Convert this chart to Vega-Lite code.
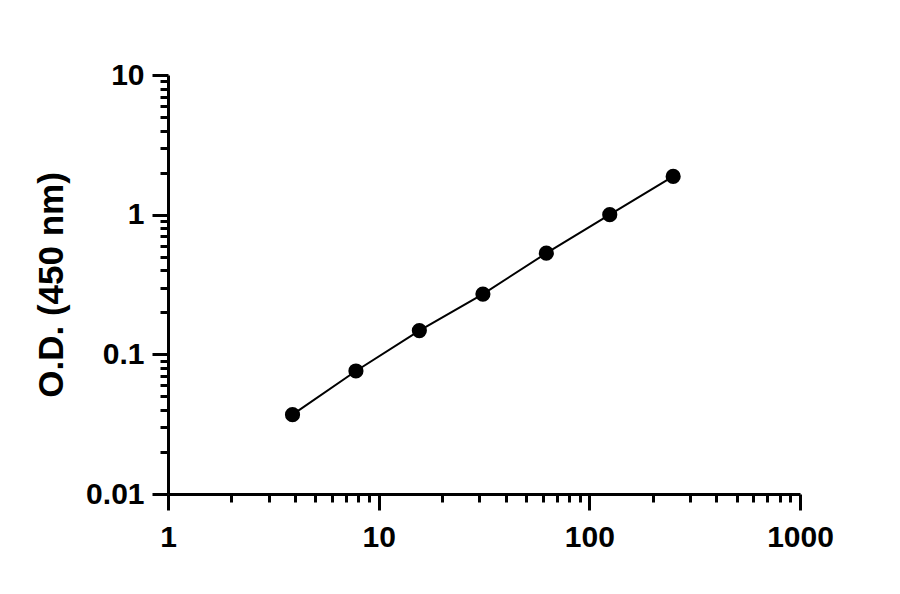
{
  "$schema": "https://vega.github.io/schema/vega-lite/v6.json",
  "description": "Standard curve, log-log: O.D. at 450 nm against concentration",
  "autosize": {"type": "none"},
  "padding": {"left": 168, "top": 75, "right": 100, "bottom": 100},
  "width": 632,
  "height": 419,
  "background": "white",
  "config": {
    "view": {"stroke": null},
    "font": "Arial",
    "axis": {
      "domainColor": "black",
      "domainWidth": 3,
      "tickColor": "black",
      "tickWidth": 3,
      "grid": false,
      "labelFont": "Arial",
      "labelFontWeight": "bold",
      "labelFontSize": 30,
      "labelColor": "black",
      "titleFont": "Arial",
      "titleFontWeight": "bold",
      "titleFontSize": 35,
      "titleColor": "black"
    }
  },
  "data": {
    "values": [
      {"conc": 3.9, "od": 0.037},
      {"conc": 7.8, "od": 0.076},
      {"conc": 15.6, "od": 0.148},
      {"conc": 31.25, "od": 0.27},
      {"conc": 62.5, "od": 0.53},
      {"conc": 125, "od": 1.0},
      {"conc": 250, "od": 1.88}
    ]
  },
  "encoding": {
    "x": {
      "field": "conc",
      "type": "quantitative",
      "scale": {"type": "log", "domain": [1, 1000], "nice": false},
      "axis": {
        "title": null,
        "values": [1, 2, 3, 4, 5, 6, 7, 8, 9, 10, 20, 30, 40, 50, 60, 70, 80, 90, 100, 200, 300, 400, 500, 600, 700, 800, 900, 1000],
        "format": "~g",
        "labelExpr": "indexof(['1', '10', '100', '1000'], datum.label) >= 0 ? datum.label : ''",
        "tickSize": {"condition": {"test": "datum.value == 1 || datum.value == 10 || datum.value == 100 || datum.value == 1000", "value": 16}, "value": 8},
        "labelPadding": 12,
        "labelFlush": false,
        "labelOverlap": false
      }
    },
    "y": {
      "field": "od",
      "type": "quantitative",
      "scale": {"type": "log", "domain": [0.01, 10], "nice": false},
      "axis": {
        "title": "O.D. (450 nm)",
        "values": [0.01, 0.02, 0.03, 0.04, 0.05, 0.06, 0.07, 0.08, 0.09, 0.1, 0.2, 0.3, 0.4, 0.5, 0.6, 0.7, 0.8, 0.9, 1, 2, 3, 4, 5, 6, 7, 8, 9, 10],
        "format": "~g",
        "labelExpr": "indexof(['0.01', '0.1', '1', '10'], datum.label) >= 0 ? datum.label : ''",
        "tickSize": {"condition": {"test": "datum.value == 0.01 || datum.value == 0.1 || datum.value == 1 || datum.value == 10", "value": 16}, "value": 8},
        "labelPadding": 8,
        "labelFlush": false,
        "labelOverlap": false,
        "titlePadding": 16
      }
    }
  },
  "layer": [
    {"mark": {"type": "line", "color": "black", "strokeWidth": 2}},
    {"mark": {"type": "point", "filled": true, "color": "black", "opacity": 1, "size": 230}}
  ]
}
